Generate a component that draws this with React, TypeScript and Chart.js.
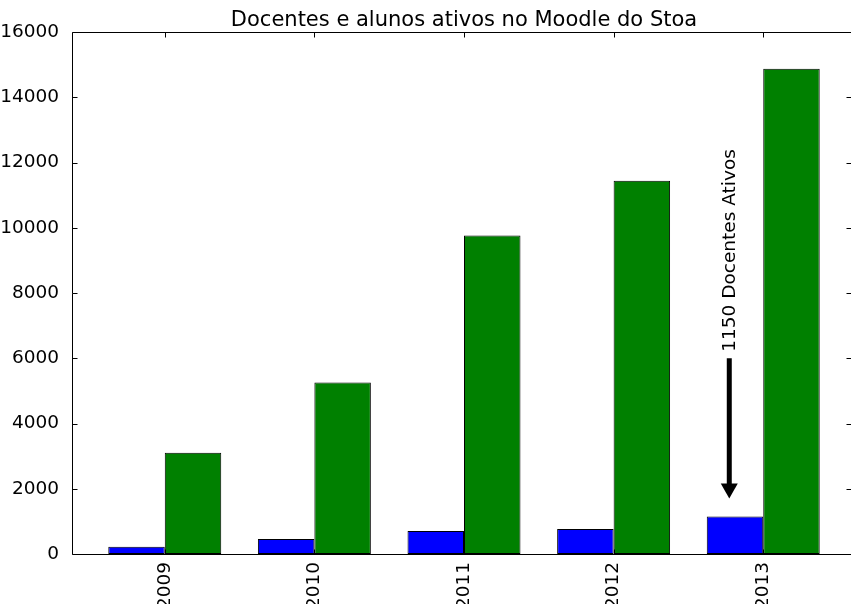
import React, { useEffect, useRef } from "react";
import { Chart, registerables } from "chart.js";

Chart.register(...registerables);

// ---- data ----
const titleText = "Docentes e alunos ativos no Moodle do Stoa";
const years = ["2009", "2010", "2011", "2012", "2013"];
const docentes = [220, 460, 705, 765, 1150];
const alunos = [3100, 5260, 9760, 11440, 14870];
const yTickValues = [0, 2000, 4000, 6000, 8000, 10000, 12000, 14000, 16000];

// annotation
const annotationText = "1150 Docentes Ativos";
const annotationYear = "2013";
const arrowTailValue = 6000;
const arrowTipValue = 1700;
const textStartValue = 6200;
const arrowXOffset = -0.227;

const FONT = "'DejaVu Sans', sans-serif";

const decorPlugin = {
  id: "decor",
  afterDatasetsDraw(chart: any) {
    const { ctx, chartArea: a, scales } = chart;
    const x = scales.x;
    const y = scales.y;
    ctx.save();
    ctx.strokeStyle = "#000";
    ctx.lineWidth = 1;
    const L = Math.round(a.left) + 0.5;
    const R = Math.round(a.right) - 0.5;
    const T = Math.round(a.top) + 0.5;
    const B = Math.round(a.bottom) + 0.5;
    ctx.beginPath();
    ctx.moveTo(L, T);
    ctx.lineTo(R, T);
    ctx.lineTo(R, B);
    ctx.lineTo(L, B);
    ctx.closePath();
    ctx.stroke();

    const tl = 5;
    ctx.beginPath();
    yTickValues.forEach((v) => {
      const py = Math.round(y.getPixelForValue(v)) + 0.5;
      ctx.moveTo(L, py);
      ctx.lineTo(L + tl, py);
      ctx.moveTo(R, py);
      ctx.lineTo(R - tl - 4, py);
    });
    years.forEach((_, i) => {
      const px = Math.round(x.getPixelForValue(i)) + 0.5;
      ctx.moveTo(px, T);
      ctx.lineTo(px, T + tl);
      ctx.moveTo(px, B);
      ctx.lineTo(px, B - tl);
    });
    ctx.stroke();

    // title
    ctx.fillStyle = "#000";
    ctx.font = `21px ${FONT}`;
    ctx.textAlign = "center";
    ctx.textBaseline = "alphabetic";
    ctx.fillText(titleText, (a.left + a.right) / 2, 26);

    // annotation arrow
    const ai = years.indexOf(annotationYear);
    const ax = x.getPixelForValue(ai + arrowXOffset);
    const yTail = y.getPixelForValue(arrowTailValue);
    const yTip = y.getPixelForValue(arrowTipValue);
    const headH = 15;
    const headW = 17;
    ctx.lineWidth = 5;
    ctx.beginPath();
    ctx.moveTo(ax, yTail);
    ctx.lineTo(ax, yTip - headH + 1);
    ctx.stroke();
    ctx.beginPath();
    ctx.moveTo(ax - headW / 2, yTip - headH);
    ctx.lineTo(ax + headW / 2, yTip - headH);
    ctx.lineTo(ax, yTip);
    ctx.closePath();
    ctx.fill();

    // annotation text
    const ty = y.getPixelForValue(textStartValue);
    ctx.translate(ax + 5.5, ty);
    ctx.rotate(-Math.PI / 2);
    ctx.font = `18.5px ${FONT}`;
    ctx.textAlign = "left";
    ctx.textBaseline = "alphabetic";
    ctx.fillText(annotationText, 0, 0);
    ctx.restore();
  },
};

export default function App() {
  const canvasRef = useRef<HTMLCanvasElement | null>(null);

  useEffect(() => {
    document.body.style.margin = "0";
    const canvas = canvasRef.current;
    if (!canvas) return;
    const tickFont = { family: FONT, size: 18.5 };
    const chart = new Chart(canvas, {
      type: "bar",
      data: {
        datasets: [
          {
            label: "Docentes",
            data: docentes.map((v, i) => ({ x: i, y: v })),
            backgroundColor: "#0000ff",
            borderColor: "#000",
            borderWidth: 1,
            borderSkipped: false,
            categoryPercentage: 0.755,
            barPercentage: 1,
          },
          {
            label: "Alunos",
            data: alunos.map((v, i) => ({ x: i, y: v })),
            backgroundColor: "#008000",
            borderColor: "#000",
            borderWidth: 1,
            borderSkipped: false,
            categoryPercentage: 0.755,
            barPercentage: 1,
          },
        ],
      } as any,
      options: {
        responsive: false,
        animation: false,
        devicePixelRatio: 1,
        layout: { padding: { left: 0, right: 0, top: 32, bottom: 0 } },
        plugins: {
          legend: { display: false },
          tooltip: { enabled: false },
          title: { display: false },
        },
        scales: {
          x: {
            type: "linear",
            min: -0.62,
            max: 4.62,
            offset: false,
            afterBuildTicks: (s: any) => {
              s.ticks = years.map((_, i) => ({ value: i }));
            },
            afterFit: (s: any) => {
              s.height = 50;
            },
            grid: { display: false },
            border: { display: false },
            ticks: {
              autoSkip: false,
              minRotation: 90,
              maxRotation: 90,
              padding: 0,
              color: "#000",
              font: tickFont,
              callback: (v: any) => years[v] ?? "",
            },
          },
          y: {
            min: 0,
            max: 16000,
            afterBuildTicks: (s: any) => {
              s.ticks = yTickValues.map((v) => ({ value: v }));
            },
            afterFit: (s: any) => {
              s.width = 72;
            },
            grid: { display: false },
            border: { display: false },
            ticks: {
              padding: 5,
              color: "#000",
              font: tickFont,
              callback: (v: any) => String(v),
            },
          },
        },
      } as any,
      plugins: [decorPlugin],
    });
    return () => chart.destroy();
  }, []);

  return (
    <div style={{ position: "absolute", left: 0, top: 0, width: 851, height: 604, overflow: "hidden", background: "#fff" }}>
      <canvas ref={canvasRef} width={856} height={604} style={{ display: "block" }} />
    </div>
  );
}
